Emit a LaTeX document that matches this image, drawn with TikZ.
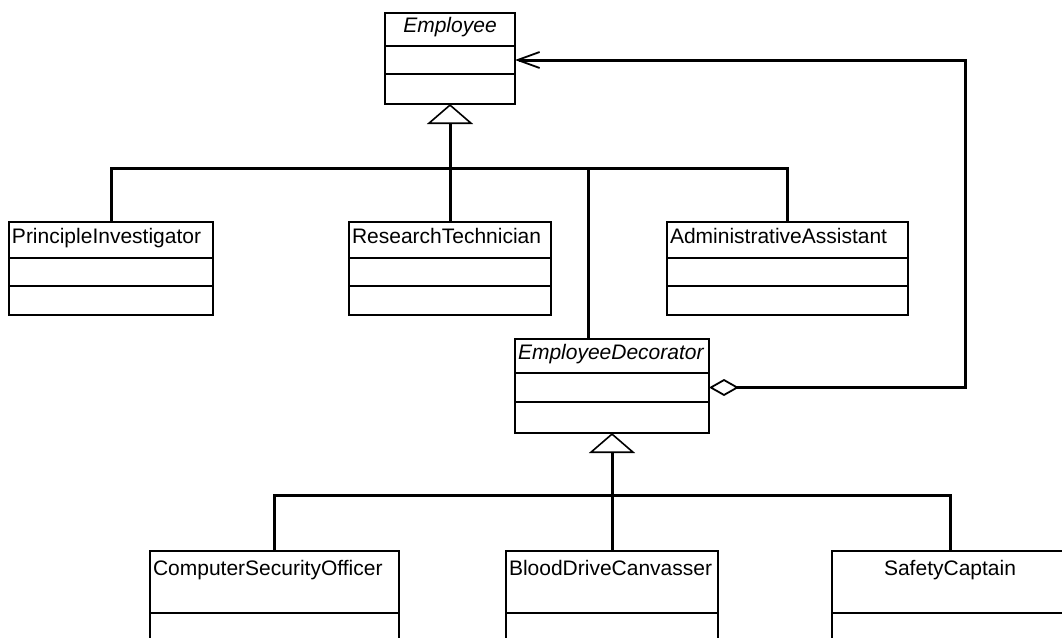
\documentclass[tikz,border=0pt]{standalone}
\usepackage{fontspec}
\setmainfont{Liberation Sans}
\usetikzlibrary{positioning, arrows.meta}

\tikzset{
  cls/.style={draw, line width=2.6pt, outer sep=0pt, inner xsep=3pt, inner ysep=0pt,
    anchor=north west, align=left, font=\fontsize{21}{24}\selectfont,
    text height=13pt, text depth=7pt},
  topcls/.style={cls, text height=24pt, text depth=38pt},
  comp/.style={draw, line width=2.6pt, outer sep=0pt, inner sep=0pt},
  conn/.style={line width=3pt},
  gen/.style={conn, -{Triangle[open, length=20pt, width=46pt, line width=1.6pt]}},
}

\begin{document}
\begin{tikzpicture}[x=1pt, y=-1pt]
\useasboundingbox (0,0) rectangle (1062,637);
\clip (0,0) rectangle (1062,637);

% base class
\node[cls, text width=124pt, minimum height=33pt, align=center] (emp) at (385,13) {\itshape Employee};
\node[comp, minimum width=130pt, minimum height=28pt, below=0pt of emp] (emp-a) {};
\node[comp, minimum width=130pt, minimum height=30pt, below=0pt of emp-a] (emp-o) {};

% concrete employees
\node[cls, text width=198pt, minimum height=36pt] (pi) at (9,222) {PrincipleInvestigator};
\node[comp, minimum width=204pt, minimum height=28pt, below=0pt of pi] (pi-a) {};
\node[comp, minimum width=204pt, minimum height=29pt, below=0pt of pi-a] (pi-o) {};

\node[cls, text width=196pt, minimum height=36pt] (rt) at (349,222) {ResearchTechnician};
\node[comp, minimum width=202pt, minimum height=28pt, below=0pt of rt] (rt-a) {};
\node[comp, minimum width=202pt, minimum height=29pt, below=0pt of rt-a] (rt-o) {};

\node[cls, text width=235pt, minimum height=36pt] (aa) at (667,222) {AdministrativeAssistant};
\node[comp, minimum width=241pt, minimum height=28pt, below=0pt of aa] (aa-a) {};
\node[comp, minimum width=241pt, minimum height=29pt, below=0pt of aa-a] (aa-o) {};

% decorator
\node[cls, text width=188pt, minimum height=34pt] (ed) at (515,339) {\itshape EmployeeDecorator};
\node[comp, minimum width=194pt, minimum height=29pt, below=0pt of ed] (ed-a) {};
\node[comp, minimum width=194pt, minimum height=31pt, below=0pt of ed-a] (ed-o) {};

% decorators
\node[topcls, text width=243pt] (cso) at (150,551) {ComputerSecurityOfficer};
\node[comp, minimum width=249pt, minimum height=40pt, below=0pt of cso] (cso-o) {};

\node[topcls, text width=206pt] (bdc) at (506,551) {BloodDriveCanvasser};
\node[comp, minimum width=212pt, minimum height=40pt, below=0pt of bdc] (bdc-o) {};

\node[topcls, text width=230pt, align=center] (sc) at (832,551) {SafetyCaptain};
\node[comp, minimum width=236pt, minimum height=40pt, below=0pt of sc] (sc-o) {};

% generalization
\coordinate (topbar) at (0,168);
\coordinate (lowbar) at (0,495);
\coordinate (edtop) at ([xshift=73pt]ed.north west);
\draw[gen] (rt.north) -- (emp-o.south);
\draw[conn] (pi.north) |- (aa.north |- topbar) -- (aa.north);
\draw[conn] (edtop) -- (edtop |- topbar);
\draw[gen] (bdc.north) -- (ed-o.south);
\draw[conn] (cso.north) |- (sc.north |- lowbar) -- (sc.north);

% aggregation
\coordinate (loop) at (965,60);
\draw[conn, {Diamond[open, length=30pt, width=17pt, line width=1.8pt]}-{Straight Barb[length=22pt, width=16pt, line width=1.8pt]}]
  (ed-a.east) -| (loop) -- (emp-a.east);
\end{tikzpicture}
\end{document}
